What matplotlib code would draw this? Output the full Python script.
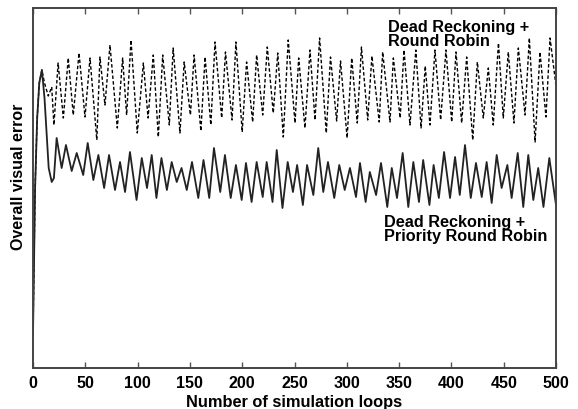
import matplotlib
matplotlib.use('Agg')
import matplotlib.pyplot as plt

plt.rcParams['font.family'] = ['Liberation Sans', 'DejaVu Sans']
plt.rcParams['font.weight'] = 'bold'

# Dead Reckoning + Round Robin (dashed) - local extremes
rr_loops = [0, 2, 4, 6, 8.5, 11, 14.6, 17.9, 20, 24, 29, 33.7, 38.5, 44, 49.7, 54.5, 61, 64,
            68.8, 73.6, 80.6, 85.7, 89.5, 93.7, 99.7, 105.5, 110, 115, 119.8, 124, 130.3,
            134, 140.5, 144.5, 150.5, 154, 160.5, 164.5, 170, 174, 180.4, 184, 190.3, 194,
            200, 204.2, 210, 213.8, 219.6, 224, 229.7, 234, 239.3, 244, 250.5, 254, 260,
            264.8, 269.6, 274, 280.4, 284.4, 290.3, 294, 300.3, 304.7, 310, 314, 320, 324,
            331, 334.3, 341.3, 344.5, 351, 354.7, 360.4, 366, 371, 375, 379.5, 384.3, 389.7,
            394.8, 400.3, 404.4, 409.8, 414.6, 420.4, 424.8, 430.5, 435.3, 440, 445, 449.6,
            454.4, 459.8, 464, 470.4, 474.5, 480, 484.7, 490.4, 494.3, 500]
rr_error = [33, 180, 250, 285, 298, 285, 272, 281, 243, 305, 250, 310, 253, 315, 251, 310, 228, 311,
            263, 323, 240, 310, 253, 328, 235, 305, 250, 313, 231, 313, 243,
            320, 235, 306, 253, 313, 237, 311, 243, 326, 250, 316, 248, 326,
            236, 306, 246, 313, 253, 321, 255, 315, 231, 328, 245, 310, 240,
            318, 248, 330, 235, 311, 247, 307, 230, 310, 245, 321, 248, 312,
            246, 316, 246, 310, 250, 318, 243, 318, 240, 302, 243, 318, 248,
            318, 246, 316, 245, 311, 228, 306, 250, 300, 243, 325, 250,
            316, 245, 320, 253, 330, 226, 316, 251, 330, 282]

# Dead Reckoning + Priority Round Robin (solid)
prr_loops = [0, 2, 4, 6, 8.5, 11, 13, 15, 17.9, 20, 22.6, 27.4, 31.5, 37, 41.8, 48, 52.3, 57.7,
             62.5, 68, 72.7, 78.4, 83.2, 88, 92.7, 99, 104, 109, 113.5, 118, 122.8, 128, 132.6,
             137.4, 142, 147, 152, 158, 163, 168.5, 173, 179, 183.5, 189, 194, 199.5, 203.6,
             209, 213.8, 219.6, 223.4, 229, 233, 238.5, 243.5, 248.5, 252.5, 258, 262, 268,
             272.7, 277.5, 282, 288, 292.8, 298, 303, 308.8, 312.6, 318, 322, 328, 332.7,
             338.7, 343, 348, 353.4, 358.8, 363.6, 369, 373, 379, 383, 388, 393, 398.7, 403.5,
             408, 413, 418.5, 423.5, 429, 433.7, 438.5, 443.3, 448, 453.5, 457.6, 463.4,
             468.7, 473.5, 478.3, 483, 488, 493.6, 500]
prr_error = [33, 180, 250, 285, 298, 270, 235, 200, 186, 190, 230, 200, 223, 197, 215, 193, 225, 188,
             213, 180, 213, 178, 206, 176, 216, 168, 210, 180, 213, 170, 210, 178, 206,
             186, 200, 178, 206, 170, 208, 170, 220, 176, 213, 170, 203, 168, 205,
             166, 206, 171, 206, 166, 218, 160, 206, 176, 203, 163, 203, 173,
             220, 176, 206, 170, 203, 178, 200, 171, 205, 166, 196, 173, 205,
             161, 200, 170, 215, 161, 206, 166, 208, 163, 203, 170, 216, 170, 211,
             173, 223, 170, 205, 171, 206, 165, 213, 180, 203, 170, 215,
             161, 213, 168, 200, 161, 210, 163]

xticks = [0, 50, 100, 150, 200, 250, 300, 350, 400, 450, 500]

fig = plt.figure(figsize=(5.78, 4.09), dpi=100)
ax = fig.add_axes([33 / 578, 41 / 409, 523 / 578, 360 / 409])

ax.plot(rr_loops, rr_error, color='black', lw=1.0, linestyle=(0, (2.5, 1.6)))
ax.plot(prr_loops, prr_error, color='#222222', lw=1.3)

ax.set_xlim(0, 500)
ax.set_ylim(0, 360)
ax.set_xticks(xticks)
ax.set_xticklabels([str(t) for t in xticks], fontsize=11.5, fontweight='bold')
ax.set_yticks([])
ax.tick_params(axis='x', direction='in', top=True, length=4, width=1, color='#555555', pad=6)
for s in ax.spines.values():
    s.set_color('#444444')
    s.set_linewidth(1.4)

ax.set_xlabel('Number of simulation loops', fontsize=11.8, fontweight='bold', labelpad=3)
ax.set_ylabel('Overall visual error', fontsize=11.5, fontweight='bold')
ax.yaxis.set_label_coords(-0.013, 0.53)

ax.text(0.678, 0.968, 'Dead Reckoning +\nRound Robin', transform=ax.transAxes,
        fontsize=11.7, fontweight='bold', va='top', ha='left', linespacing=0.92)
ax.text(0.671, 0.425, 'Dead Reckoning +\nPriority Round Robin', transform=ax.transAxes,
        fontsize=11.7, fontweight='bold', va='top', ha='left', linespacing=0.92)

fig.savefig('out.png', dpi=100)
